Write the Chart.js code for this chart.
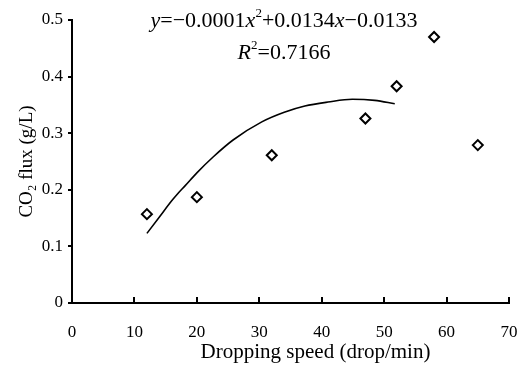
<!DOCTYPE html>
<html lang="en">
<head>
  <meta charset="UTF-8">
  <title>CO2 flux vs dropping speed</title>
  <script src="https://cdn.jsdelivr.net/npm/chart.js@4/dist/chart.umd.min.js"></script>
  <style>
    html, body { margin: 0; padding: 0; background: #fff; }
    #wrap { width: 524px; height: 370px; }
  </style>
</head>
<body>
  <div id="wrap"><canvas id="fluxChart" width="524" height="370"></canvas></div>
  <script>
    // measured points
    const speeds = [12, 20, 32, 47, 52, 58, 65];
    const fluxes = [0.157, 0.187, 0.261, 0.326, 0.383, 0.470, 0.279];

    // fitted curve as drawn in the figure
    const fitX = [12, 14, 16, 17, 18.1, 20, 22.6, 25.8, 30.4, 34, 37.3, 41, 44.9, 48.5, 51.7];
    const fitY = [0.123, 0.152, 0.181, 0.194, 0.207, 0.230, 0.258, 0.288, 0.320, 0.337, 0.348, 0.355, 0.360, 0.358, 0.352];

    const xTicks = [0, 10, 20, 30, 40, 50, 60, 70];
    const yTicks = [0, 0.1, 0.2, 0.3, 0.4, 0.5];

    const xTitle = 'Dropping speed (drop/min)';
    const yTitle = 'CO\u2082 flux (g/L)';

    const FONT = "'Liberation Serif', 'Times New Roman', serif";

    // equation and R² drawn as rich text (italic + superscripts)
    const eqLines = [
      [['y', 'i'], ['=\u22120.0001', 'n'], ['x', 'i'], ['2', 's'], ['+0.0134', 'n'], ['x', 'i'], ['\u22120.0133', 'n']],
      [['R', 'i'], ['2', 's'], ['=0.7166', 'n']]
    ];

    const textPlugin = {
      id: 'texts',
      afterDraw(chart) {
        const ctx = chart.ctx;
        const area = chart.chartArea;
        const fontFor = k => k === 'i' ? `italic 22px ${FONT}` : k === 's' ? `13px ${FONT}` : `22px ${FONT}`;
        const cx = 284;
        const rows = [21, 53];
        ctx.save();
        ctx.fillStyle = '#000';
        ctx.textBaseline = 'middle';
        eqLines.forEach((segs, i) => {
          let w = 0;
          segs.forEach(s => { ctx.font = fontFor(s[1]); w += ctx.measureText(s[0]).width; });
          let x = cx - w / 2;
          segs.forEach(s => {
            ctx.font = fontFor(s[1]);
            ctx.fillText(s[0], x, s[1] === 's' ? rows[i] - 7 : rows[i]);
            x += ctx.measureText(s[0]).width;
          });
        });
        // x axis title, sits right of the plot centre in the original
        ctx.font = `21px ${FONT}`;
        ctx.textAlign = 'center';
        ctx.fillText(xTitle, (area.left + area.right) / 2 + 25, 352);

        // x ticks point up into the plot
        const xs = chart.scales.x;
        ctx.strokeStyle = '#000';
        ctx.lineWidth = 2;
        xTicks.forEach(v => {
          const px = Math.round(xs.getPixelForValue(v));
          ctx.beginPath();
          ctx.moveTo(px, area.bottom);
          ctx.lineTo(px, area.bottom - 6);
          ctx.stroke();
        });
        ctx.restore();
      }
    };

    new Chart(document.getElementById('fluxChart'), {
      type: 'scatter',
      data: {
        datasets: [
          {
            type: 'line',
            data: fitX.map((x, i) => ({ x: x, y: fitY[i] })),
            borderColor: '#000',
            borderWidth: 1.6,
            pointRadius: 0,
            cubicInterpolationMode: 'monotone',
            fill: false
          },
          {
            data: speeds.map((x, i) => ({ x: x, y: fluxes[i] })),
            pointStyle: 'rectRot',
            pointRadius: 5,
            pointBorderWidth: 2,
            pointBorderColor: '#000',
            pointBackgroundColor: '#fff'
          }
        ]
      },
      options: {
        responsive: false,
        animation: false,
        layout: { padding: { left: 0, right: 15, top: 20, bottom: 0 } },
        plugins: { legend: { display: false }, tooltip: { enabled: false } },
        scales: {
          x: {
            type: 'linear',
            min: 0, max: 70,
            afterBuildTicks: s => { s.ticks = xTicks.map(v => ({ value: v })); },
            afterFit: s => { s.height = 67; s.paddingRight = 0; s.paddingLeft = 0; },
            grid: { display: true, drawOnChartArea: false, drawTicks: false },
            border: { color: '#000', width: 2 },
            ticks: { color: '#000', font: { family: FONT, size: 17 }, padding: 19, maxRotation: 0 }
          },
          y: {
            min: 0, max: 0.5,
            afterBuildTicks: s => { s.ticks = yTicks.map(v => ({ value: v })); },
            afterFit: s => { s.width = 72; },
            grid: { display: true, drawOnChartArea: false, tickLength: 4, color: '#000', lineWidth: 2 },
            border: { color: '#000', width: 2 },
            ticks: { color: '#000', font: { family: FONT, size: 17 }, padding: 5, callback: v => String(Math.round(v * 10) / 10) },
            title: { display: true, text: yTitle, color: '#000', font: { family: FONT, size: 19 }, padding: { top: 16, bottom: 0 } }
          }
        }
      },
      plugins: [textPlugin]
    });
  </script>
</body>
</html>
